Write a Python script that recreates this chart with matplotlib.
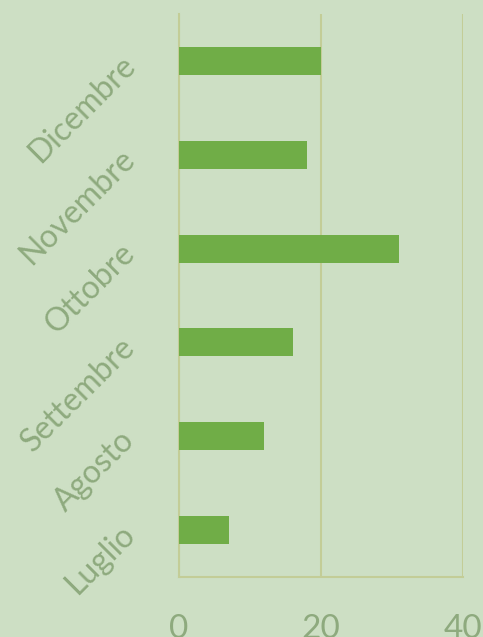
import matplotlib
matplotlib.use('Agg')
import matplotlib.pyplot as plt

# data
months = ['Luglio', 'Agosto', 'Settembre', 'Ottobre', 'Novembre', 'Dicembre']
values = [7, 12, 16, 31, 18, 20]
xticks = [0, 20, 40]

bg = '#cddfc4'
bar_color = '#70ad47'
grid_color = '#c3cd97'
text_color = '#8eaa7e'

plt.rcParams['font.family'] = ['Lato', 'DejaVu Sans']

W, H = 483, 637
fig = plt.figure(figsize=(W / 100, H / 100), dpi=100, facecolor=bg)
ax = fig.add_axes([179 / W, 1 - 577 / H, (463 - 179) / W, (577 - 14) / H])
ax.set_facecolor(bg)

ax.barh(range(len(months)), values, height=0.3, color=bar_color, zorder=3)
ax.set_ylim(-0.5, len(months) - 0.5)
ax.set_xlim(0, 40)

ax.set_xticks(xticks)
ax.set_xticklabels([str(t) for t in xticks], fontsize=24, color=text_color)
ax.set_yticks(range(len(months)))
ax.set_yticklabels(months, fontsize=23, color=text_color, rotation=45,
                   ha='right', va='center', rotation_mode='anchor')
ax.tick_params(axis='y', length=0, pad=35)
ax.tick_params(axis='x', length=0, pad=27)

ax.grid(axis='x', color=grid_color, linewidth=1.5, zorder=0)
ax.spines['top'].set_visible(False)
ax.spines['right'].set_visible(False)
for s in ['bottom', 'left']:
    ax.spines[s].set_color(grid_color)
    ax.spines[s].set_linewidth(1.5)
    ax.spines[s].set_zorder(1)

fig.savefig('out.png', dpi=100, facecolor=bg)
